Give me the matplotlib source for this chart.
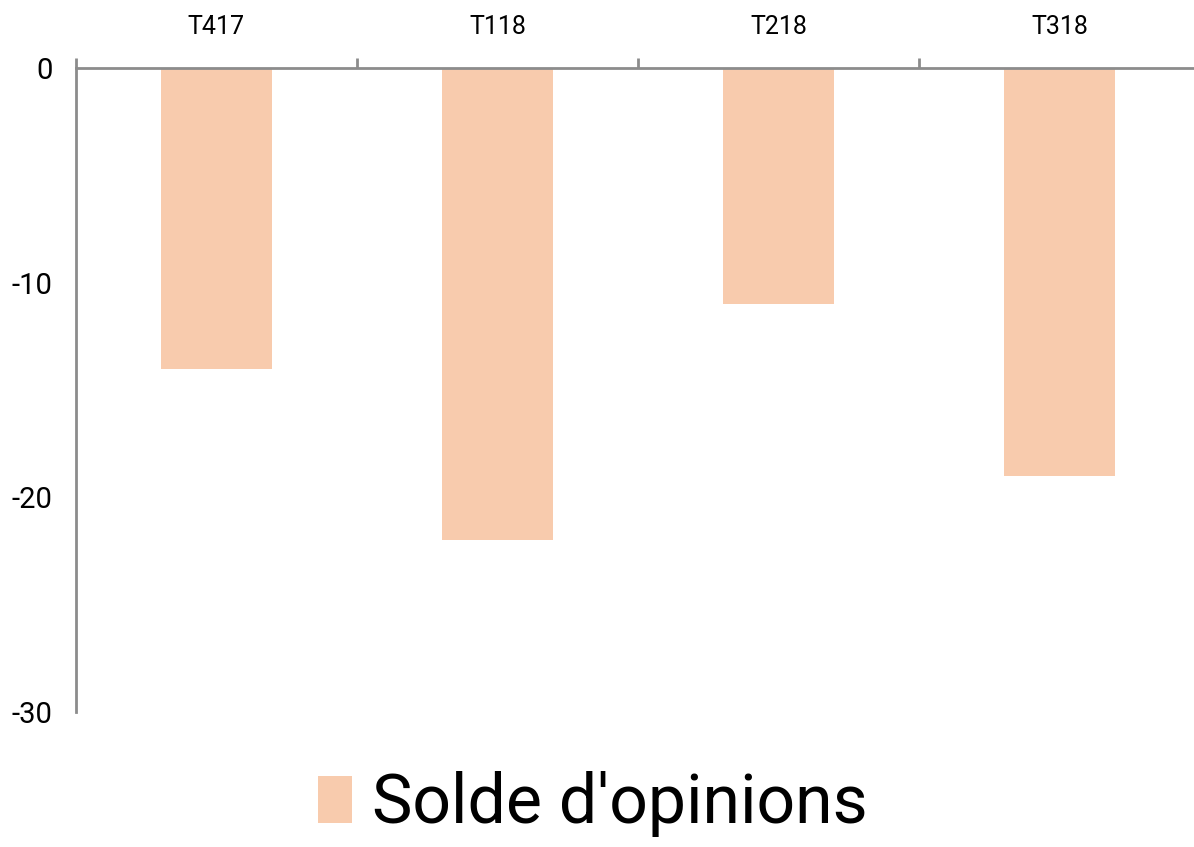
import matplotlib
matplotlib.use("Agg")
import matplotlib.pyplot as plt
import numpy as np

categories = ["T417", "T118", "T218", "T318"]
values = [-14, -22, -11, -19]
yticks = [0, -10, -20, -30]
series_name = "Solde d'opinions"

plt.rcParams['font.family'] = ['Roboto', 'DejaVu Sans']

fig = plt.figure(figsize=(11.94, 8.47), dpi=100)
ax = fig.add_axes([76/1194, 135/847, 1124/1194, 644/847])

x = np.arange(len(categories))
ax.bar(x, values, width=0.395, color="#F8CBAD", label=series_name, zorder=1)

ax.set_xlim(-0.5, len(categories) - 0.5)
ax.set_ylim(-30, 0)

ax.set_yticks(yticks)
ax.set_yticklabels([str(v) for v in yticks], fontsize=21)
ax.tick_params(axis='y', length=0, pad=17)

ax.xaxis.tick_top()
ax.set_xticks(np.arange(len(categories) + 1) - 0.5)
ax.set_xticklabels([])
ax.tick_params(axis='x', which='major', direction='out', length=7.2, width=2, color="#8c8c8c")
ax.set_xticks(x, minor=True)
ax.set_xticklabels(categories, minor=True, fontsize=18)
ax.tick_params(axis='x', which='minor', length=0, pad=21)

for s in ['right', 'bottom']:
    ax.spines[s].set_visible(False)
for s in ['left', 'top']:
    ax.spines[s].set_color("#8c8c8c")
    ax.spines[s].set_linewidth(2)
    ax.spines[s].set_zorder(3)

fig.legend(loc='center', bbox_to_anchor=(593/1194, 1 - 804/847), frameon=False,
           fontsize=49, handlelength=0.5, handleheight=0.69, handletextpad=0.3)

fig.savefig("out.png", dpi=100)
